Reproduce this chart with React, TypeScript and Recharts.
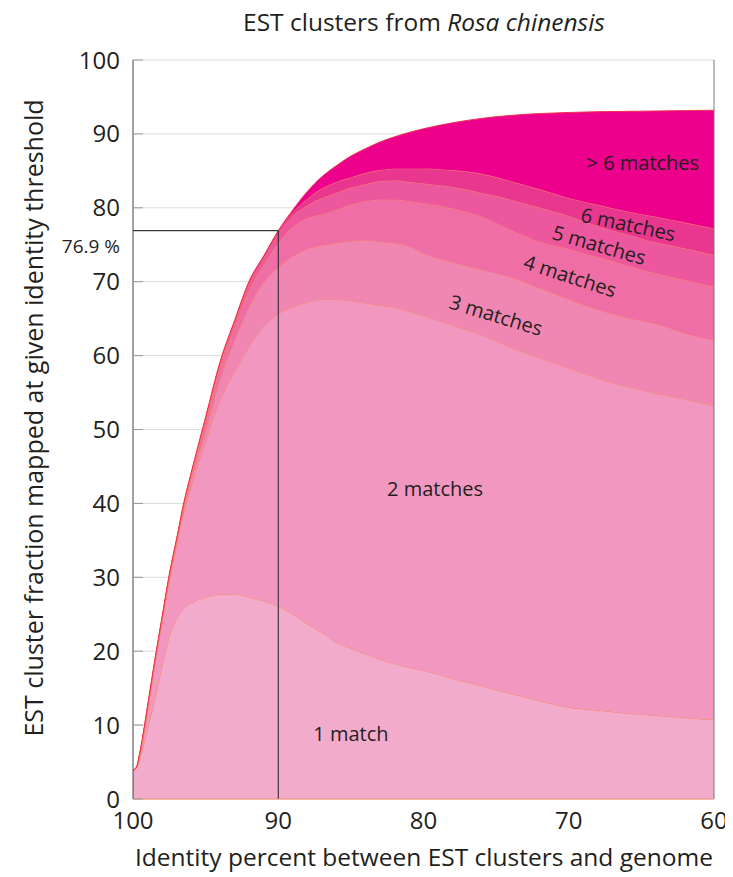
import React from 'react';
import {
  AreaChart,
  Area,
  XAxis,
  YAxis,
  CartesianGrid,
  ReferenceLine,
  ReferenceDot,
} from 'recharts';

// Identity percent thresholds (x axis, reversed 100 -> 60)
const identity = [100, 99.75, 99.5, 99, 98.5, 98, 97.5, 97, 96.5, 96, 95, 94, 93, 92, 91, 90, 89, 88, 87, 86, 85, 84, 83, 82, 81, 80, 78, 76, 74, 72, 70, 68, 66, 64, 62, 60];

// Per-layer fractions (stacked)
const match1 = [3.9, 4.2, 5.6, 9.5, 13.5, 18.0, 22.0, 24.4, 25.8, 26.5, 27.3, 27.7, 27.7, 27.3, 26.8, 26.1, 25.0, 23.7, 22.5, 21.2, 20.4, 19.6, 18.9, 18.3, 17.8, 17.4, 16.3, 15.3, 14.3, 13.3, 12.4, 12.0, 11.6, 11.3, 11.0, 10.7];
const match2 = [0, 0.1, 0.7, 2.3, 4.7, 6.0, 7.6, 9.9, 13.0, 15.7, 21.1, 26.3, 30.1, 33.9, 37.1, 39.5, 41.6, 43.5, 45.1, 46.4, 47.0, 47.5, 47.9, 48.2, 48.2, 48.0, 47.8, 47.5, 46.8, 46.4, 45.9, 44.9, 44.2, 43.6, 43.1, 42.5];
const match3 = [0, 0, 0.1, 0.2, 0.2, 0.2, 0.3, 0.4, 0.5, 1.0, 1.3, 2.8, 4.2, 5.4, 6.0, 6.3, 6.8, 7.2, 7.3, 7.6, 8.1, 8.5, 8.6, 8.7, 8.8, 8.4, 8.5, 8.8, 9.5, 9.4, 9.3, 9.3, 9.3, 9.4, 8.9, 8.9];
const match4 = [0, 0, 0, 0.2, 0.1, 0.15, 0.2, 0.2, 0.4, 0.5, 1.2, 1.6, 1.8, 2.3, 2.4, 3.3, 4.0, 4.2, 4.2, 4.5, 4.9, 5.3, 5.7, 5.9, 6.1, 6.8, 7.3, 7.2, 6.4, 6.3, 6.8, 7.1, 7.1, 6.8, 7.2, 7.2];
const match5 = [0, 0, 0.1, 0.1, 0.1, 0.1, 0.1, 0.1, 0.2, 0.2, 0.4, 0.4, 0.5, 0.7, 0.7, 1.2, 1.5, 1.7, 2.2, 2.3, 2.3, 2.3, 2.5, 2.6, 2.6, 2.7, 2.9, 3.2, 4.1, 4.6, 4.5, 4.2, 4.2, 4.2, 4.3, 4.3];
const match6 = [0, 0, 0, 0.1, 0.1, 0.05, 0.1, 0.1, 0.1, 0.1, 0.2, 0.2, 0.3, 0.3, 0.3, 0.3, 0.5, 0.9, 1.3, 1.5, 1.4, 1.5, 1.5, 1.6, 1.8, 2.0, 2.3, 2.6, 2.5, 2.5, 2.4, 2.9, 3.1, 3.5, 3.5, 3.6];
const moreThan6 = [0, 0.1, 0.1, 0.2, 0.1, 0.1, 0.1, 0.1, 0.1, 0.1, 0.2, 0.2, 0.2, 0.2, 0.2, 0.2, 0.3, 1.0, 1.6, 2.2, 2.9, 3.3, 3.8, 4.3, 4.9, 5.4, 6.4, 7.5, 8.9, 10.25, 11.6, 12.6, 13.55, 14.3, 15.15, 16.0];

const xTicks = [100, 90, 80, 70, 60];
const yTicks = [0, 10, 20, 30, 40, 50, 60, 70, 80, 90, 100];
const threshold = { x: 90, y: 76.9 };

const seriesKeys = ['m1', 'm2', 'm3', 'm4', 'm5', 'm6', 'm7'];
const seriesColors = ['#f3abcc', '#f298c0', '#f087b2', '#ef6ea6', '#ec579e', '#e93790', '#ec008c'];

const layerLabels = [
  { text: '1 match', x: 85.0, y: 8.9, angle: 0 },
  { text: '2 matches', x: 79.2, y: 42.0, angle: 0 },
  { text: '3 matches', x: 75.0, y: 65.5, angle: 17 },
  { text: '4 matches', x: 69.9, y: 70.8, angle: 18 },
  { text: '5 matches', x: 67.9, y: 75.0, angle: 16 },
  { text: '6 matches', x: 65.9, y: 77.8, angle: 12 },
  { text: '> 6 matches', x: 64.9, y: 86.1, angle: 0 },
];

const data = identity.map((x, i) => ({
  x,
  m1: match1[i],
  m2: match2[i],
  m3: match3[i],
  m4: match4[i],
  m5: match5[i],
  m6: match6[i],
  m7: moreThan6[i],
}));

const FONT = '"Open Sans", "Noto Sans", sans-serif';
const TEXT = '#231f20';

const RotLabel = (props: any) => {
  const { viewBox, value, angle } = props;
  const cx = viewBox.x + viewBox.width / 2;
  const cy = viewBox.y + viewBox.height / 2;
  return (
    <text
      x={cx}
      y={cy}
      textAnchor="middle"
      dominantBaseline="central"
      fontSize={20}
      fill={TEXT}
      fontFamily={FONT}
      transform={`rotate(${angle} ${cx} ${cy})`}
    >
      {value}
    </text>
  );
};

export default function App() {
  return (
    <div style={{ position: 'relative', width: 725, height: 869, fontFamily: FONT }}>
      <AreaChart
        width={725}
        height={869}
        data={data}
        margin={{ top: 52, right: 19, left: 0, bottom: 0 }}
      >
        <CartesianGrid horizontal vertical={false} stroke="#dcdcdc" />
        <XAxis
          dataKey="x"
          type="number"
          domain={[60, 100]}
          reversed
          ticks={xTicks}
          height={78}
          tickSize={0}
          tickLine={false}
          tickMargin={13}
          axisLine={{ stroke: '#f08a6a' }}
          tick={{ fontSize: 24, fill: TEXT }}
        />
        <XAxis
          xAxisId="top"
          orientation="top"
          dataKey="x"
          type="number"
          domain={[60, 100]}
          reversed
          ticks={[90, 80, 70]}
          height={0}
          tick={false}
          tickSize={-10}
          tickLine={{ stroke: '#999' }}
          axisLine={{ stroke: '#666' }}
        />
        <YAxis
          type="number"
          domain={[0, 100]}
          ticks={yTicks}
          width={125}
          tickSize={-10}
          tickMargin={23}
          tickLine={{ stroke: '#999' }}
          axisLine={{ stroke: '#444' }}
          tick={{ fontSize: 24, fill: TEXT }}
        />
        {seriesKeys.map((k, i) => (
          <Area
            key={k}
            dataKey={k}
            stackId="a"
            type="monotone"
            fill={seriesColors[i]}
            fillOpacity={1}
            stroke={i === 6 ? '#ef3150' : '#f5845f'}
            strokeWidth={1}
            isAnimationActive={false}
            dot={false}
            activeDot={false}
          />
        ))}
        <ReferenceLine x={60} stroke="#777" strokeWidth={1} />
        <ReferenceLine
          segment={[{ x: 100, y: threshold.y }, { x: threshold.x, y: threshold.y }]}
          stroke="#3a3a3a"
          strokeWidth={1.3}
        />
        <ReferenceLine
          segment={[{ x: threshold.x, y: threshold.y }, { x: threshold.x, y: 0 }]}
          stroke="#222"
          strokeWidth={1}
        />
        {layerLabels.map((l) => (
          <ReferenceDot
            key={l.text}
            x={l.x}
            y={l.y}
            r={1}
            fill="none"
            stroke="none"
            label={(p: any) => <RotLabel {...p} value={l.text} angle={l.angle} />}
          />
        ))}
      </AreaChart>
      <svg
        width={725}
        height={877}
        style={{ position: 'absolute', left: 0, top: -8, pointerEvents: 'none', overflow: 'visible' }}
      >
        <text x={416} y={31} textAnchor="middle" fontSize={24.5} fill={TEXT} fontFamily={FONT}>
          EST clusters from <tspan fontStyle="italic">Rosa chinensis</tspan>
        </text>
        <text x={416} y={866} textAnchor="middle" fontSize={24.5} fill={TEXT} fontFamily={FONT}>
          Identity percent between EST clusters and genome
        </text>
        <text
          x={35}
          y={418}
          textAnchor="middle"
          fontSize={25}
          fill={TEXT}
          fontFamily={FONT}
          transform="rotate(-90 35 418)"
        >
          EST cluster fraction mapped at given identity threshold
        </text>
        <text x={112} y={253} textAnchor="end" fontSize={19} fill={TEXT} fontFamily={FONT}>
          76.9 %
        </text>
      </svg>
    </div>
  );
}
